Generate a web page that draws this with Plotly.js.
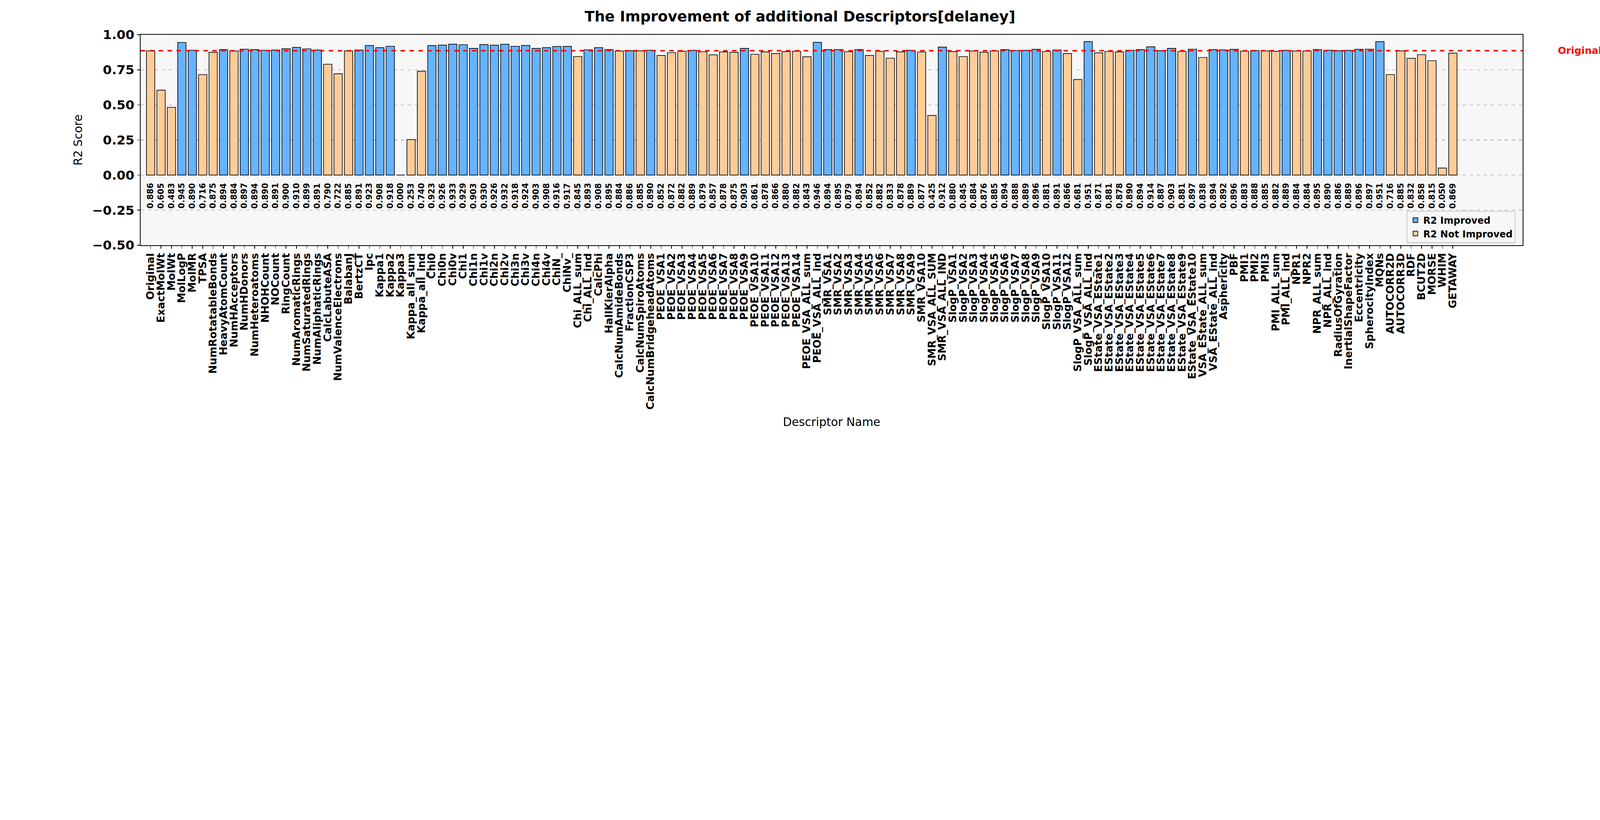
<!DOCTYPE html>
<html>
<head>
<meta charset="utf-8">
<script src="https://cdn.plot.ly/plotly-3.0.1.min.js"></script>
<style>
  html, body { margin: 0; padding: 0; background: #fff; overflow: hidden; }
</style>
</head>
<body>
<div id="chart"></div>
<script>
// R2 per descriptor set.
const ORIGINAL_R2 = 0.886;

const descriptors = [
  "Original", "ExactMolWt", "MolWt", "MolLogP", "MolMR", "TPSA", "NumRotatableBonds",
  "HeavyAtomCount", "NumHAcceptors", "NumHDonors", "NumHeteroatoms", "NHOHCount", "NOCount",
  "RingCount", "NumAromaticRings", "NumSaturatedRings", "NumAliphaticRings", "CalcLabuteASA",
  "NumValenceElectrons", "BalabanJ", "BertzCT", "Ipc", "Kappa1", "Kappa2", "Kappa3",
  "Kappa_all_sum", "Kappa_all_ind", "Chi0", "Chi0n", "Chi0v", "Chi1", "Chi1n", "Chi1v",
  "Chi2n", "Chi2v", "Chi3n", "Chi3v", "Chi4n", "Chi4v", "ChiN_", "ChiNv_", "Chi_ALL_sum",
  "Chi_ALL_ind", "CalcPhi", "HallKierAlpha", "CalcNumAmideBonds", "FractionCSP3",
  "CalcNumSpiroAtoms", "CalcNumBridgeheadAtoms", "PEOE_VSA1", "PEOE_VSA2", "PEOE_VSA3",
  "PEOE_VSA4", "PEOE_VSA5", "PEOE_VSA6", "PEOE_VSA7", "PEOE_VSA8", "PEOE_VSA9", "PEOE_VSA10",
  "PEOE_VSA11", "PEOE_VSA12", "PEOE_VSA13", "PEOE_VSA14", "PEOE_VSA_ALL_sum", "PEOE_VSA_ALL_ind",
  "SMR_VSA1", "SMR_VSA2", "SMR_VSA3", "SMR_VSA4", "SMR_VSA5", "SMR_VSA6", "SMR_VSA7",
  "SMR_VSA8", "SMR_VSA9", "SMR_VSA10", "SMR_VSA_ALL_SUM", "SMR_VSA_ALL_IND", "SlogP_VSA1",
  "SlogP_VSA2", "SlogP_VSA3", "SlogP_VSA4", "SlogP_VSA5", "SlogP_VSA6", "SlogP_VSA7",
  "SlogP_VSA8", "SlogP_VSA9", "SlogP_VSA10", "SlogP_VSA11", "SlogP_VSA12", "SlogP_VSA_ALL_sum",
  "SlogP_VSA_ALL_ind", "EState_VSA_EState1", "EState_VSA_EState2", "EState_VSA_EState3",
  "EState_VSA_EState4", "EState_VSA_EState5", "EState_VSA_EState6", "EState_VSA_EState7",
  "EState_VSA_EState8", "EState_VSA_EState9", "EState_VSA_EState10", "VSA_EState_ALL_sum",
  "VSA_EState_ALL_ind", "Asphericity", "PBF", "PMI1", "PMI2", "PMI3", "PMI_ALL_sum",
  "PMI_ALL_ind", "NPR1", "NPR2", "NPR_ALL_sum", "NPR_ALL_ind", "RadiusOfGyration",
  "InertialShapeFactor", "Eccentricity", "SpherocityIndex", "MQNs", "AUTOCORR2D",
  "AUTOCORR3D", "RDF", "BCUT2D", "MORSE", "WHIM", "GETAWAY"
];

const r2Scores = [
  0.886, 0.605, 0.483, 0.945, 0.890, 0.716, 0.875,
  0.894, 0.884, 0.897, 0.894, 0.890, 0.891,
  0.900, 0.910, 0.899, 0.891, 0.790,
  0.722, 0.885, 0.891, 0.923, 0.908, 0.918, 0.000,
  0.253, 0.740, 0.923, 0.926, 0.933, 0.929, 0.903, 0.930,
  0.926, 0.932, 0.918, 0.924, 0.903, 0.908, 0.916, 0.917, 0.845,
  0.893, 0.908, 0.895, 0.884, 0.8862,
  0.885, 0.890, 0.852, 0.872, 0.882,
  0.889, 0.879, 0.857, 0.878, 0.875, 0.903, 0.861,
  0.878, 0.866, 0.880, 0.882, 0.843, 0.946,
  0.894, 0.895, 0.879, 0.894, 0.852, 0.882, 0.833,
  0.878, 0.889, 0.877, 0.425, 0.912, 0.880,
  0.845, 0.884, 0.876, 0.885, 0.894, 0.888,
  0.889, 0.896, 0.881, 0.891, 0.866, 0.681,
  0.951, 0.871, 0.881, 0.878,
  0.890, 0.894, 0.914, 0.887,
  0.903, 0.881, 0.897, 0.838,
  0.894, 0.892, 0.896, 0.883, 0.888, 0.885, 0.882,
  0.889, 0.884, 0.884, 0.895, 0.890, 0.8862,
  0.889, 0.896, 0.897, 0.951, 0.716,
  0.885, 0.832, 0.858, 0.815, 0.050, 0.869
];

const BLUE = "#66b3ff";
const ORANGE = "#ffcc99";
const FONT = "DejaVu Sans, sans-serif";

// Sizes are designed for 7500x2100; scale them to whatever the window really is.
const S = Math.min(window.innerWidth / 7500, window.innerHeight / 2100) || 1;
const px = (v) => v * S;

const improvedX = [], improvedY = [], notX = [], notY = [];
descriptors.forEach(function (name, i) {
  if (r2Scores[i] > ORIGINAL_R2) {
    improvedX.push(name); improvedY.push(r2Scores[i]);
  } else {
    notX.push(name); notY.push(r2Scores[i]);
  }
});

function barTrace(x, y, color, label) {
  return {
    type: "bar", x: x, y: y, name: label, width: 0.8,
    marker: { color: color, line: { color: "#000", width: px(3) } },
  };
}

const valueLabels = descriptors.map(function (name, i) {
  return {
    x: name, y: -0.05, xref: "x", yref: "y",
    text: "<b>" + r2Scores[i].toFixed(3) + "</b>",
    textangle: -90, showarrow: false, yanchor: "top",
    font: { family: FONT, size: px(38), color: "#000" },
  };
});

valueLabels.push({
  x: 1.025, y: ORIGINAL_R2, xref: "paper", yref: "y", xanchor: "left",
  text: "<b>Original</b>", showarrow: false,
  font: { family: FONT, size: px(46), color: "#ff0000" },
});

const layout = {
  width: px(7500), height: px(2100),
  margin: { l: px(660), r: px(362), t: px(163), b: px(950) },
  paper_bgcolor: "#fff", plot_bgcolor: "#f7f7f7",
  barmode: "overlay", bargap: 0,
  title: {
    text: "<b>The Improvement of additional Descriptors[delaney]</b>",
    x: 0.5, xanchor: "center", y: 0.975, yanchor: "top",
    font: { family: FONT, size: px(68), color: "#000" },
  },
  xaxis: {
    type: "category", categoryorder: "array", categoryarray: descriptors,
    tickmode: "array", tickvals: descriptors, ticktext: descriptors,
    range: [-0.96, 131.7], tickangle: -90, automargin: false,
    tickfont: { family: FONT, size: px(49), color: "#000", weight: "bold" },
    ticks: "outside", ticklen: px(14), tickwidth: px(3), tickcolor: "#000",
    showline: true, linecolor: "#000", linewidth: px(3), mirror: true,
    showgrid: false,
    title: { text: "Descriptor Name", standoff: px(40), font: { family: FONT, size: px(54), color: "#000" } },
  },
  yaxis: {
    range: [-0.5, 1.0], tickvals: [-0.5, -0.25, 0, 0.25, 0.5, 0.75, 1.0], tickformat: ".2f",
    automargin: false,
    tickfont: { family: FONT, size: px(60), color: "#000", weight: "bold" },
    ticks: "outside", ticklen: px(14), tickwidth: px(3), tickcolor: "#000",
    showline: true, linecolor: "#000", linewidth: px(3), mirror: true,
    showgrid: true, gridcolor: "#c4c4c4", gridwidth: px(4), griddash: "dash",
    zeroline: false,
    title: { text: "R2 Score", standoff: px(30), font: { family: FONT, size: px(54), color: "#000" } },
  },
  shapes: [{
    type: "line", xref: "paper", x0: 0, x1: 1, yref: "y", y0: ORIGINAL_R2, y1: ORIGINAL_R2,
    line: { color: "#ff0000", width: px(7), dash: "dash" },
  }],
  annotations: valueLabels,
  showlegend: true,
  legend: {
    x: 0.995, xanchor: "right", y: 0.01, yanchor: "bottom",
    bgcolor: "rgba(247,247,247,0.85)", bordercolor: "#cccccc", borderwidth: px(4),
    font: { family: FONT, size: px(44), color: "#000", weight: "bold" },
  },
};

Plotly.newPlot("chart", [
  barTrace(improvedX, improvedY, BLUE, "R2 Improved"),
  barTrace(notX, notY, ORANGE, "R2 Not Improved"),
], layout, { displayModeBar: false, staticPlot: true });
</script>
</body>
</html>
